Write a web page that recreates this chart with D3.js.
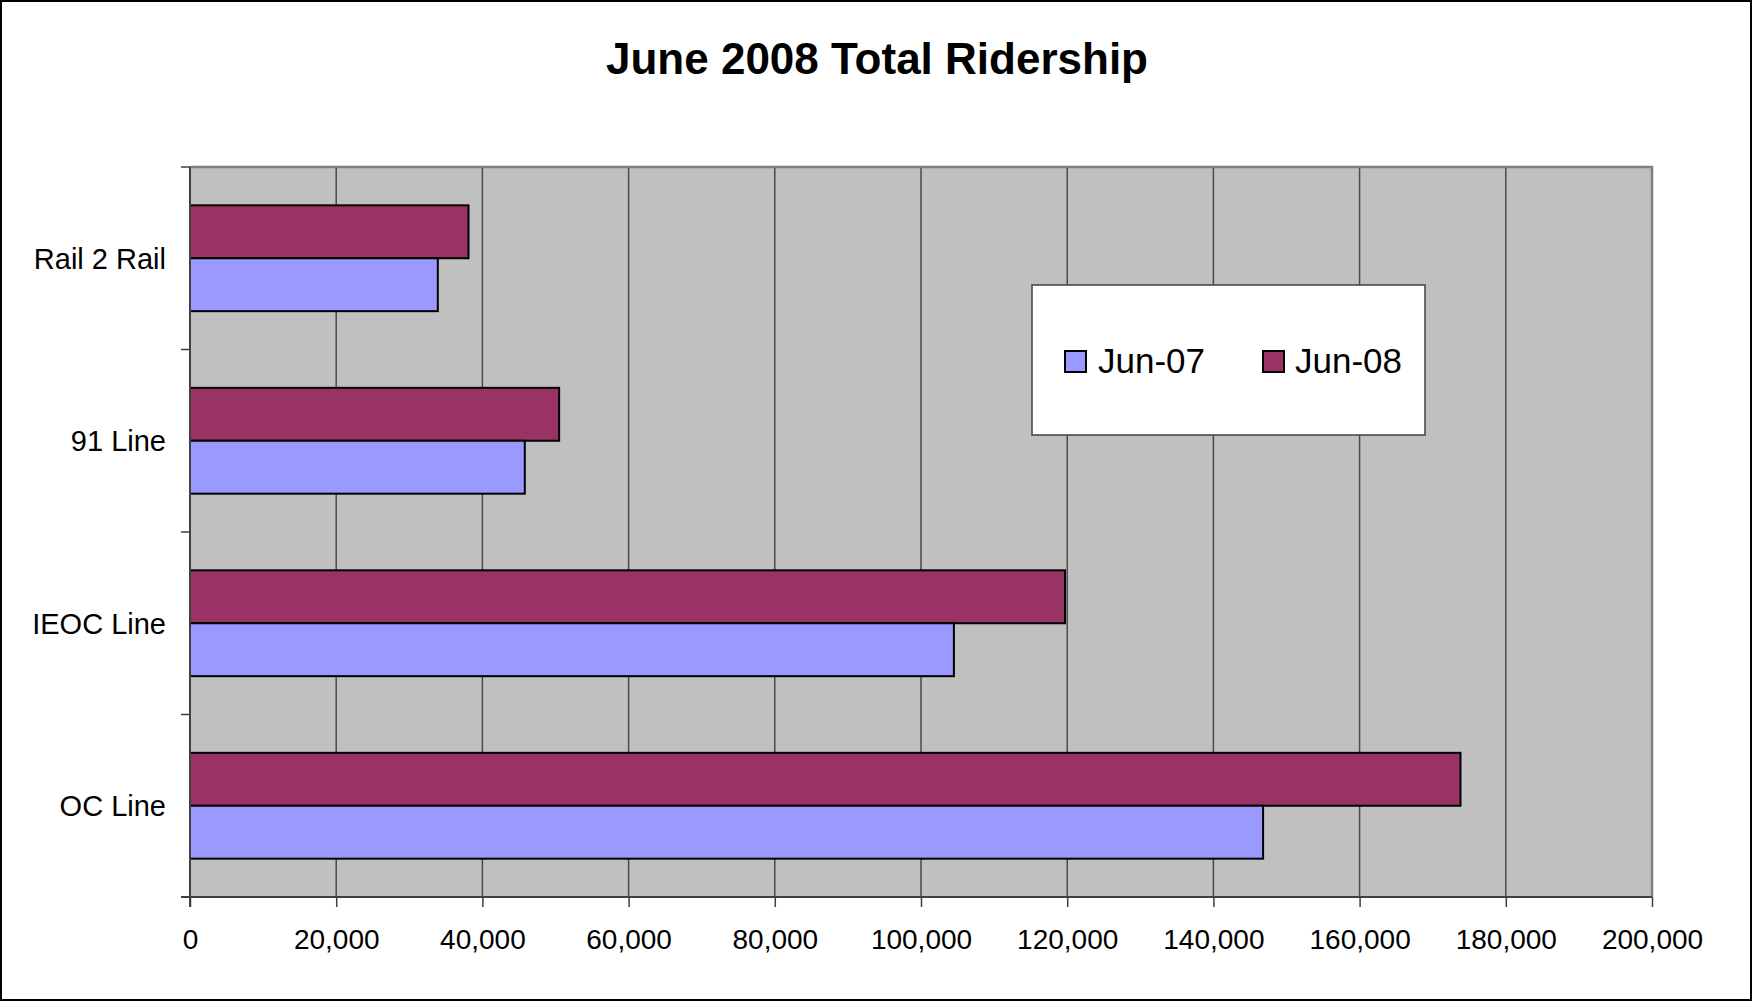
<!DOCTYPE html>
<html>
<head>
<meta charset="utf-8">
<script src="https://cdn.jsdelivr.net/npm/d3@7"></script>
<style>
  body { margin: 0; background: #fff; }
  svg { display: block; font-family: "Liberation Sans", Arial, sans-serif; }
</style>
</head>
<body>
<div id="chart"></div>
<script>
// data
const categories = ["Rail 2 Rail", "91 Line", "IEOC Line", "OC Line"];
const seriesNames = ["Jun-08", "Jun-07"]; // top bar first within each group
const jun07 = [33900, 45800, 104500, 146800];
const jun08 = [38100, 50500, 119700, 173800];
const xTicks = [0, 20000, 40000, 60000, 80000, 100000, 120000, 140000, 160000, 180000, 200000];
const colors = { "Jun-07": "#9999FF", "Jun-08": "#993366" };

const width = 1753, height = 1002;
const plot = { left: 190, right: 1652, top: 167, bottom: 897 };

const svg = d3.select("#chart").append("svg")
  .attr("width", width)
  .attr("height", height);

// outer frame
svg.append("rect")
  .attr("x", 1).attr("y", 1)
  .attr("width", width - 3).attr("height", height - 3)
  .attr("fill", "#fff").attr("stroke", "#000").attr("stroke-width", 2);

// title
svg.append("text")
  .attr("x", 877).attr("y", 74)
  .attr("text-anchor", "middle")
  .style("font-size", "44px").style("font-weight", "bold")
  .text("June 2008 Total Ridership");

// scales
const x = d3.scaleLinear().domain([0, 200000]).range([plot.left, plot.right]);
const y0 = d3.scaleBand().domain(categories).range([plot.top, plot.bottom])
  .paddingInner(0.42).paddingOuter(0.21);
const y1 = d3.scaleBand().domain(seriesNames).range([0, y0.bandwidth()]);

// plot background
svg.append("rect")
  .attr("x", plot.left).attr("y", plot.top)
  .attr("width", plot.right - plot.left).attr("height", plot.bottom - plot.top)
  .attr("fill", "#C0C0C0");

// gridlines
svg.append("g")
  .selectAll("line")
  .data(xTicks.slice(1, -1))
  .join("line")
  .attr("x1", d => x(d)).attr("x2", d => x(d))
  .attr("y1", plot.top).attr("y2", plot.bottom)
  .attr("stroke", "#4a4a4a").attr("stroke-width", 1.5);

// top and right frame (gray)
svg.append("path")
  .attr("d", `M${plot.left},${plot.top}H${plot.right}V${plot.bottom}`)
  .attr("fill", "none").attr("stroke", "#808080").attr("stroke-width", 2.5);

// bars
const rows = categories.map((c, i) => ({ cat: c, "Jun-07": jun07[i], "Jun-08": jun08[i] }));
const groups = svg.append("g")
  .selectAll("g")
  .data(rows)
  .join("g")
  .attr("transform", d => `translate(0,${y0(d.cat)})`);

groups.selectAll("rect")
  .data(d => seriesNames.map(s => ({ s, v: d[s] })))
  .join("rect")
  .attr("x", x(0))
  .attr("y", d => y1(d.s))
  .attr("width", d => x(d.v) - x(0))
  .attr("height", y1.bandwidth())
  .attr("fill", d => colors[d.s])
  .attr("stroke", "#000").attr("stroke-width", 2);

// x axis
const xAxis = svg.append("g")
  .attr("transform", `translate(0,${plot.bottom})`)
  .call(d3.axisBottom(x).tickValues(xTicks).tickSize(10).tickPadding(22)
    .tickFormat(d3.format(",")));
xAxis.select(".domain").attr("stroke", "#404040").attr("stroke-width", 2)
  .attr("d", `M${plot.left - 9},0H${plot.right}`);
xAxis.selectAll(".tick line").attr("stroke", "#404040").attr("stroke-width", 1.5);
xAxis.selectAll(".tick text").style("font-size", "28px").attr("fill", "#000")
  .attr("font-family", "Liberation Sans, Arial, sans-serif");

// y axis line and boundary ticks
const yAxis = svg.append("g");
yAxis.append("line")
  .attr("x1", plot.left).attr("x2", plot.left)
  .attr("y1", plot.top).attr("y2", plot.bottom + 10)
  .attr("stroke", "#404040").attr("stroke-width", 2);
const step = y0.step();
yAxis.selectAll("line.tk")
  .data(d3.range(categories.length + 1))
  .join("line").attr("class", "tk")
  .attr("x1", plot.left - 9).attr("x2", plot.left)
  .attr("y1", i => plot.top + i * step).attr("y2", i => plot.top + i * step)
  .attr("stroke", "#404040").attr("stroke-width", 1.5);
yAxis.selectAll("text")
  .data(categories)
  .join("text")
  .attr("x", plot.left - 24)
  .attr("y", d => y0(d) + y0.bandwidth() / 2)
  .attr("dy", "0.37em")
  .attr("text-anchor", "end")
  .style("font-size", "29px")
  .text(d => d);

// legend
const legend = svg.append("g").attr("transform", "translate(1032,285)");
legend.append("rect")
  .attr("width", 393).attr("height", 150)
  .attr("fill", "#fff").attr("stroke", "#404040").attr("stroke-width", 1.5);
const legendItems = [
  { name: "Jun-07", sx: 33, tx: 66 },
  { name: "Jun-08", sx: 231, tx: 263 }
];
legendItems.forEach(it => {
  legend.append("rect")
    .attr("x", it.sx).attr("y", 66)
    .attr("width", 21).attr("height", 21)
    .attr("fill", colors[it.name]).attr("stroke", "#000").attr("stroke-width", 2);
  legend.append("text")
    .attr("x", it.tx).attr("y", 88)
    .style("font-size", "35px")
    .text(it.name);
});
</script>
</body>
</html>
